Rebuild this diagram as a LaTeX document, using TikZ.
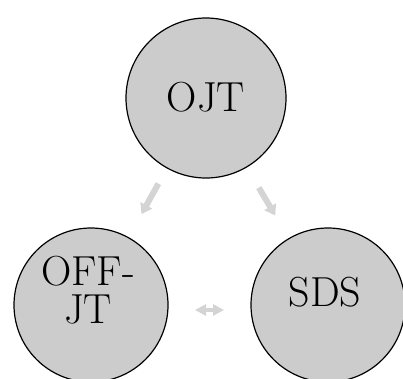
\documentclass[tikz,border=0pt]{standalone}
\usetikzlibrary{arrows.meta}
\begin{document}
\begin{tikzpicture}[x=1pt,y=-1pt,
  circ/.style={circle,draw=black,line width=1.2pt,fill=black!20,minimum size=#1,inner sep=0pt},
  lab/.style={font=\fontsize{42}{38}\selectfont,align=center,inner sep=0pt},
  fat/.style={line width=6pt,draw=black!17,-{Triangle[length=10pt,width=13pt]}},
  fatboth/.style={line width=4pt,draw=black!17,{Triangle[length=11pt,width=11pt]}-{Triangle[length=11pt,width=11pt]}}]
\useasboundingbox (0,0) rectangle (403,378);
\node[circ=160pt] (ojt) at (206,98) {};
\node[circ=154pt] (off) at (91,305) {};
\node[circ=154pt] (sds) at (328,305) {};
\node[lab] (ojtt) at (206,97) {OJT};
\node[lab] (offt) at (88,290) {OFF-\\JT};
\node[lab] (sdst) at (325,292) {SDS};
\draw[fat,shorten <=98pt,shorten >=104pt] (ojt.center) -- (off.center);
\draw[fat,shorten <=104pt,shorten >=104pt] (ojt.center) -- (sds.center);
\draw[fatboth,shorten <=104pt,shorten >=104pt] ([yshift=-5pt]off.center) -- ([yshift=-5pt]sds.center);
\end{tikzpicture}
\end{document}
